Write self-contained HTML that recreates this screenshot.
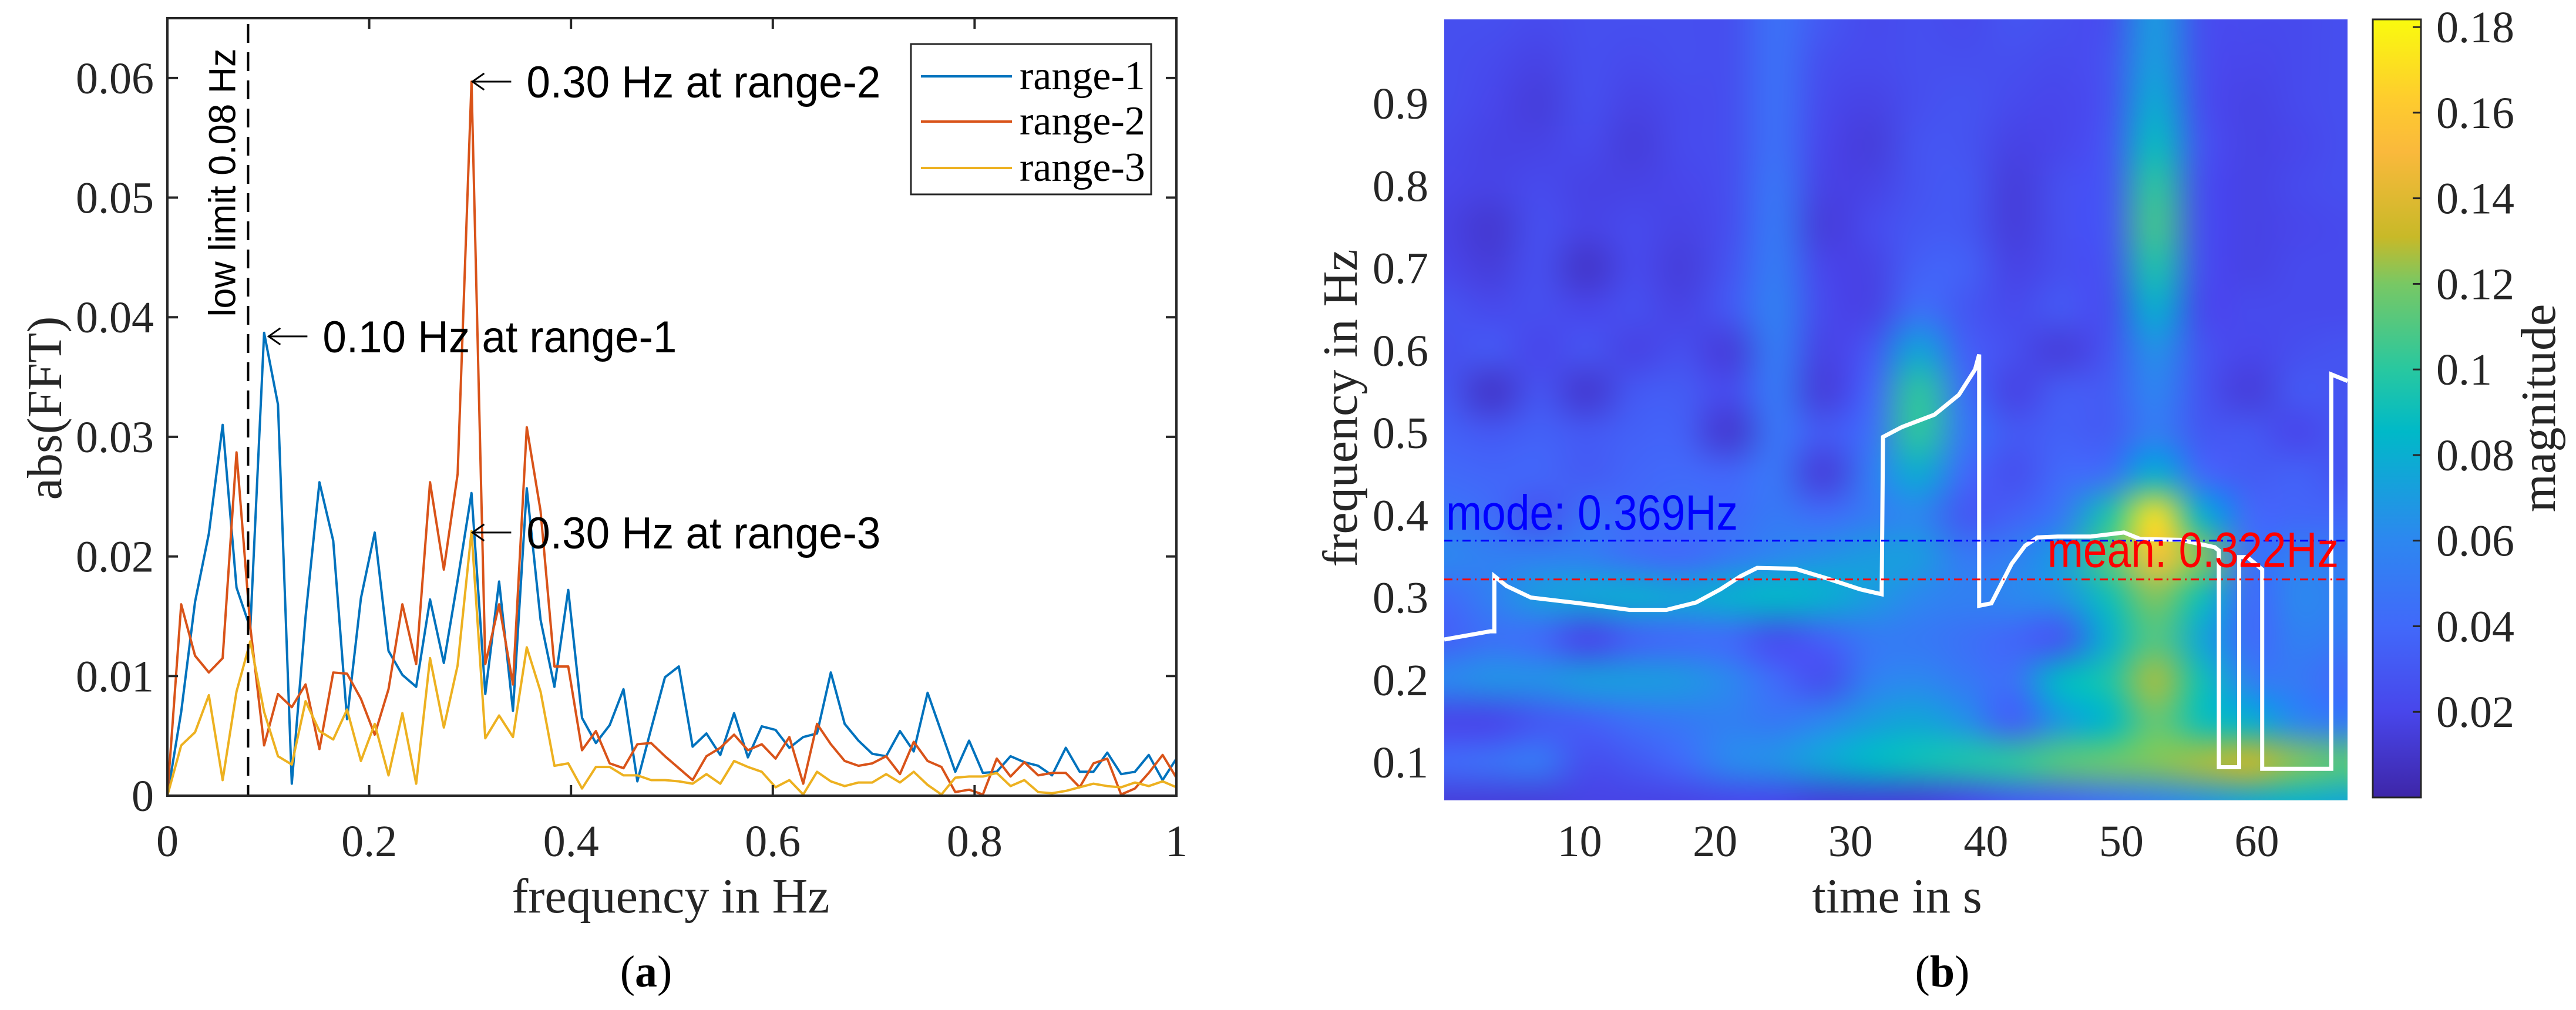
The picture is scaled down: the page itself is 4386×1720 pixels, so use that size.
<!DOCTYPE html>
<html><head><meta charset="utf-8">
<style>
html,body{margin:0;padding:0;background:#fff;}
#wrap{position:relative;width:4386px;height:1720px;overflow:hidden;}
svg{position:absolute;left:0;top:0;}
#heat{position:absolute;left:2459px;top:33px;width:1538px;height:1330px;}
</style></head>
<body>
<div id="wrap">
<canvas id="heat" width="1538" height="1330"></canvas>
<svg id="svg" width="4386" height="1720" xmlns="http://www.w3.org/2000/svg"></svg>
</div>
<script>
// ---------- Panel (a) data ----------
const fftCount = 74; // frequency bins 0..1 Hz
const range1 = [0,.0070,.0162,.0219,.0310,.0174,.0140,.0387,.0327,.0010,.0150,.0262,.0213,.0064,.0165,.0220,.0121,.0101,.0091,.0164,.0111,.0180,.0253,.0085,.0179,.0071,.0257,.0147,.0091,.0172,.0065,.0044,.0059,.0089,.0012,.0056,.0099,.0108,
.0041,.0052,.0034,.0069,.0032,.0058,.0055,.0040,.0049,.0052,.0103,.0060,.0046,.0035,.0033,.0054,.0037,.0086,.0053,.0020,.0046,.0019,.0020,.0033,.0028,.0025,.0017,.0040,.0020,.0020,.0036,.0018,.0020,.0034,.0013,.0031];
const range2 = [0,.0160,.0117,.0103,.0115,.0287,.0141,.0042,.0085,.0074,.0093,.0039,.0103,.0102,.0081,.0051,.0089,.0160,.0110,.0262,.0189,.0269,.0597,.0110,.0160,.0093,.0308,.0238,.0108,.0108,.0038,.0054,.0027,.0023,.0043,.0044,.0033,.0023,
.0013,.0033,.0040,.0051,.0038,.0043,.0031,.0049,.0010,.0060,.0043,.0029,.0025,.0027,.0033,.0018,.0045,.0029,.0024,.0003,.0005,.0001,.0031,.0016,.0028,.0017,.0019,.0019,.0007,.0027,.0031,.0001,.0006,.0019,.0034,.0015];
const range3 = [0,.0042,.0053,.0084,.0013,.0087,.0129,.0070,.0033,.0026,.0079,.0054,.0047,.0072,.0029,.0060,.0017,.0069,.0010,.0115,.0057,.0109,.0221,.0048,.0067,.0049,.0124,.0087,.0025,.0027,.0006,.0024,.0024,.0017,.0017,.0013,.0013,.0012,
.0010,.0018,.0010,.0029,.0024,.0020,.0007,.0013,.0001,.0020,.0012,.0008,.0011,.0011,.0018,.0011,.0020,.0009,.0001,.0015,.0016,.0016,.0019,.0008,.0013,.0003,.0002,.0004,.0007,.0010,.0008,.0007,.0011,.0008,.0012,.0007];
const seriesNames = ["range-1","range-2","range-3"];
const xTicksA = [0,0.2,0.4,0.6,0.8,1];
const xTickLabelsA = ["0","0.2","0.4","0.6","0.8","1"];
const yTicksA = [0,0.01,0.02,0.03,0.04,0.05,0.06];
const yTickLabelsA = ["0","0.01","0.02","0.03","0.04","0.05","0.06"];
const lowLimit = 0.08;
const annFreq = [0.30,0.098,0.30];
const annVal = [0.0597,0.0384,0.0220];
const annText = ["0.30 Hz at range-2","0.10 Hz at range-1","0.30 Hz at range-3"];

// ---------- Panel (b) data ----------
const heatTimes = [0,3.5,7,10.5,14,17.5,21,24.5,28,31.5,35,38.5,42,45.5,49,52.5,56,59.5,63,66.5];
const heatFreqs = [1.0,.95,.9,.85,.8,.75,.7,.65,.6,.55,.5,.45,.4,.35,.3,.25,.2,.15,.1,.05];
const heatVals = [ // magnitude x1000, rows = heatFreqs, cols = heatTimes
[25,25,22,25,25,25,25,45,30,22,25,22,28,25,25,70,25,22,22,25],
[25,22,18,25,22,25,25,45,25,22,25,25,25,22,28,72,25,20,22,25],
[25,20,15,25,18,22,25,45,22,18,25,28,22,20,28,78,25,18,22,25],
[22,18,18,22,15,22,25,45,20,15,28,28,18,20,30,88,28,18,20,25],
[20,18,22,18,18,20,25,48,18,18,28,30,15,25,30,100,25,18,22,25],
[18,12,25,18,22,18,25,50,15,22,30,30,15,25,30,105,25,18,20,22],
[20,15,25,10,22,15,28,52,20,18,35,35,18,25,28,95,25,18,22,22],
[28,22,25,20,25,18,30,55,22,18,45,30,22,30,25,80,22,22,22,22],
[25,30,20,28,18,25,15,52,18,30,75,35,25,15,28,65,28,20,25,28],
[30,10,28,12,30,32,22,50,15,38,100,45,18,32,32,58,28,15,30,28],
[35,30,35,30,35,35,12,48,30,45,100,50,30,35,32,55,30,30,20,30],
[40,38,38,32,38,40,38,48,15,52,78,40,25,40,45,80,40,32,35,28],
[48,42,28,45,40,45,42,50,42,52,60,30,35,50,95,170,80,40,38,38],
[60,55,55,55,45,40,50,60,65,70,70,50,55,70,110,155,120,45,55,50],
[40,55,70,75,78,75,80,85,80,70,60,55,60,65,90,120,90,40,60,55],
[35,45,40,20,35,40,40,25,35,50,50,45,38,30,80,110,75,40,55,50],
[60,65,65,70,70,68,60,40,25,55,60,50,45,85,95,125,90,55,50,40],
[20,20,30,35,45,50,55,50,60,70,75,65,35,70,85,115,90,80,60,50],
[40,45,50,25,30,40,60,65,75,85,90,95,100,110,115,120,125,130,120,110],
[15,15,15,18,18,18,20,20,15,15,15,20,30,35,45,55,65,75,80,75]];
const ridgeT = [0,3.4,3.7,3.7,4.6,6.4,10,13.7,16.4,18.6,20.4,21.9,23.1,25.9,28.3,30.7,32.3,32.4,33.8,36.2,38.0,39.2,39.5,39.5,40.4,41.9,42.9,43.8,45.3,47.7,50.2,51.4,54.4,56.9,57.2,57.2,58.7,58.7,59.3,60.4,60.4,62.6,65.5,65.5,66.7];
const ridgeF = [.249,.259,.259,.326,.314,.300,.293,.285,.285,.294,.310,.326,.336,.335,.323,.310,.304,.495,.507,.522,.546,.577,.595,.290,.293,.341,.363,.373,.374,.374,.379,.371,.370,.361,.357,.094,.094,.349,.349,.334,.092,.092,.092,.571,.563];
const modeFreq = 0.369, meanFreq = 0.322;
const xTicksB = [10,20,30,40,50,60];
const yTicksB = [0.1,0.2,0.3,0.4,0.5,0.6,0.7,0.8,0.9];
const cbTicks = [0.02,0.04,0.06,0.08,0.1,0.12,0.14,0.16,0.18];
const cbLabels = ["0.02","0.04","0.06","0.08","0.1","0.12","0.14","0.16","0.18"];

// ---------- helpers ----------
const NS="http://www.w3.org/2000/svg";
const svg=document.getElementById('svg');
function mk(tag,attrs,parent){const e=document.createElementNS(NS,tag);for(const k in attrs)e.setAttribute(k,attrs[k]);(parent||svg).appendChild(e);return e;}
const SERIF='"Liberation Serif", "DejaVu Serif", serif';
const SANS='"Liberation Sans", "DejaVu Sans", sans-serif';

// ---------- panel (a) ----------
const A={l:285,r:2003,t:31,b:1355,ymax:0.065};
const ax=v=>A.l+v*(A.r-A.l);
const ay=v=>A.b-v/A.ymax*(A.b-A.t);
const colors=["#0072BD","#D95319","#EDB120"];
const allSeries=[range1,range2,range3];
const gA=mk('g',{});


allSeries.forEach((s,k)=>{
  let d='';
  s.forEach((v,i)=>{d+=(i?'L':'M')+ax(i/(fftCount-1)).toFixed(1)+' '+ay(v).toFixed(1);});
  const p=mk('path',{d:d,fill:'none',stroke:colors[k],'stroke-width':4,'stroke-linejoin':'round'},gA);
  
  
});
const ll=mk('line',{x1:ax(lowLimit),x2:ax(lowLimit),y1:A.t+10,y2:A.b,stroke:'#000','stroke-width':4,'stroke-dasharray':'32 16'},gA);


const llt=mk('text',{x:0,y:0,transform:`translate(${ax(lowLimit)-22},311) rotate(-90)`,'text-anchor':'middle','font-family':SANS,'font-size':64,fill:'#000',textLength:457,lengthAdjust:'spacingAndGlyphs'},gA);
llt.textContent='low limit 0.08 Hz';


annText.forEach((t,i)=>{
  const x=ax(annFreq[i]), y=ay(annVal[i]);
  const g=mk('g',{},gA);
  
  
  mk('line',{x1:x+4,y1:y,x2:x+70,y2:y,stroke:'#000','stroke-width':3},g);
  mk('path',{d:`M${x+24} ${y-14} L${x+4} ${y} L${x+24} ${y+14}`,fill:'none',stroke:'#000','stroke-width':3},g);
  const tx=mk('text',{x:x+96,y:y+27,'font-family':SANS,'font-size':76,fill:'#000',textLength:603,lengthAdjust:'spacingAndGlyphs'},g);
  tx.textContent=t;
});
const box=mk('rect',{x:A.l,y:A.t,width:A.r-A.l,height:A.b-A.t,fill:'none',stroke:'#262626','stroke-width':4},gA);


xTicksA.forEach((v,i)=>{
  const x=ax(v);
  mk('line',{x1:x,x2:x,y1:A.b,y2:A.b-18,stroke:'#262626','stroke-width':4},gA);
  mk('line',{x1:x,x2:x,y1:A.t,y2:A.t+18,stroke:'#262626','stroke-width':4},gA);
  const t=mk('text',{x:x,y:1458,'text-anchor':'middle','font-family':SERIF,'font-size':76,fill:'#262626'},gA);
  t.textContent=xTickLabelsA[i];
  
  
});
yTicksA.forEach((v,i)=>{
  const y=ay(v);
  mk('line',{x1:A.l,x2:A.l+18,y1:y,y2:y,stroke:'#262626','stroke-width':4},gA);
  mk('line',{x1:A.r,x2:A.r-18,y1:y,y2:y,stroke:'#262626','stroke-width':4},gA);
  const t=mk('text',{x:262,y:y+26,'text-anchor':'end','font-family':SERIF,'font-size':76,fill:'#262626'},gA);
  t.textContent=yTickLabelsA[i];
  
  
});
let t1=mk('text',{x:1142,y:1554,'text-anchor':'middle','font-family':SERIF,'font-size':84,fill:'#262626'},gA);
t1.textContent='frequency in Hz';


t1=mk('text',{x:0,y:0,transform:'translate(104,695) rotate(-90)','text-anchor':'middle','font-family':SERIF,'font-size':84,fill:'#262626'},gA);
t1.textContent='abs(FFT)';


const lg=mk('g',{},gA);


mk('rect',{x:1551,y:75,width:409,height:256,fill:'#fff',stroke:'#262626','stroke-width':3},lg);
seriesNames.forEach((n,k)=>{
  const y=[130,207,286][k];
  const e=mk('g',{},lg);
  
  
  mk('line',{x1:1568,x2:1723,y1:y,y2:y,stroke:colors[k],'stroke-width':4},e);
  const t=mk('text',{x:1736,y:y+22,'font-family':SERIF,'font-size':70,fill:'#000'},e);
  t.textContent=n;
});
t1=mk('text',{x:1100,y:1680,'text-anchor':'middle','font-family':SERIF,'font-size':76,fill:'#000'});
t1.innerHTML='(<tspan font-weight="bold">a</tspan>)';



// ---------- panel (b) ----------
const B={l:2459,r:3997,t:33,b:1363,tmin:0,tmax:66.7,fmin:0.0537,fmax:1.002};
const bx=v=>B.l+(v-B.tmin)/(B.tmax-B.tmin)*(B.r-B.l);
const by=v=>B.b-(v-B.fmin)/(B.fmax-B.fmin)*(B.b-B.t);
const stops=[[0,62,38,168],[0.11,72,70,235],[0.22,65,105,250],[0.33,45,135,240],[0.47,0,185,200],[0.55,40,200,160],[0.66,120,200,100],[0.72,200,185,40],[0.83,250,185,60],[0.9,254,205,45],[1,249,251,14]];
function cmap(u){u=Math.max(0,Math.min(1,u));for(let i=1;i<stops.length;i++){if(u<=stops[i][0]){const a=stops[i-1],b=stops[i],f=(u-a[0])/(b[0]-a[0]);return [0,1,2].map(j=>Math.round(a[j+1]+f*(b[j+1]-a[j+1])));}}return stops[stops.length-1].slice(1);}
(function(){
  const cv=document.getElementById('heat');const ctx=cv.getContext('2d');
  const nc=heatTimes.length,nr=heatFreqs.length;
  const sm=document.createElement('canvas');sm.width=nc;sm.height=nr;
  const sc=sm.getContext('2d');const img=sc.createImageData(nc,nr);
  for(let r=0;r<nr;r++)for(let c=0;c<nc;c++){const col=cmap(heatVals[r][c]/1000/0.18);const o=(r*nc+c)*4;img.data[o]=col[0];img.data[o+1]=col[1];img.data[o+2]=col[2];img.data[o+3]=255;}
  sc.putImageData(img,0,0);
  ctx.imageSmoothingEnabled=true;ctx.imageSmoothingQuality='high';
  const x0=bx(heatTimes[0])-B.l, x1=bx(heatTimes[nc-1])-B.l;
  const y0=by(heatFreqs[0])-B.t, y1=by(heatFreqs[nr-1])-B.t;
  const cw=(x1-x0)/(nc-1), ch=(y1-y0)/(nr-1);
  ctx.drawImage(sm,0,0,nc,nr,x0-cw/2,y0-ch/2,cw*nc,ch*nr);
  ctx.drawImage(sm,0,nr-1,nc,1,x0-cw/2,y1,cw*nc,B.b-B.t-y1+2);
  ctx.drawImage(sm,nc-1,0,1,nr,x1,y0-ch/2,B.r-B.l-x1+2,ch*nr);
})();
const gB=mk('g',{});


let rd='';
ridgeT.forEach((t,i)=>{rd+=(i?'L':'M')+bx(t).toFixed(1)+' '+by(ridgeF[i]).toFixed(1);});
const ridge=mk('path',{d:rd,fill:'none',stroke:'#fff','stroke-width':7},gB);


const ml=mk('line',{x1:B.l,x2:B.r,y1:by(modeFreq),y2:by(modeFreq),stroke:'#0000ff','stroke-width':3,'stroke-dasharray':'14 7 3 7'},gB);


const mn=mk('line',{x1:B.l,x2:B.r,y1:by(meanFreq),y2:by(meanFreq),stroke:'#ff0000','stroke-width':3,'stroke-dasharray':'14 7 3 7'},gB);


t1=mk('text',{x:B.l+3,y:by(modeFreq)-19,'font-family':SANS,'font-size':84,fill:'#0000ff',textLength:497,lengthAdjust:'spacingAndGlyphs'},gB);
t1.textContent='mode: '+modeFreq+'Hz';


t1=mk('text',{x:3486,y:by(meanFreq)-21,'font-family':SANS,'font-size':84,fill:'#ff0000',textLength:496,lengthAdjust:'spacingAndGlyphs'},gB);
t1.textContent='mean: '+meanFreq+'Hz';


xTicksB.forEach(v=>{
  const t=mk('text',{x:bx(v),y:1458,'text-anchor':'middle','font-family':SERIF,'font-size':76,fill:'#262626'},gB);
  t.textContent=String(v);
  
  
});
yTicksB.forEach(v=>{
  const t=mk('text',{x:2432,y:by(v)+26,'text-anchor':'end','font-family':SERIF,'font-size':76,fill:'#262626'},gB);
  t.textContent=String(v);
  
  
});
t1=mk('text',{x:3230,y:1554,'text-anchor':'middle','font-family':SERIF,'font-size':84,fill:'#262626'},gB);
t1.textContent='time in s';


t1=mk('text',{x:0,y:0,transform:'translate(2310,695) rotate(-90)','text-anchor':'middle','font-family':SERIF,'font-size':84,fill:'#262626'},gB);
t1.textContent='frequency in Hz';


const C={l:4040,r:4122,t:33,b:1358,vmax:0.1818};
const cy=v=>C.b-v/C.vmax*(C.b-C.t);
const defs=mk('defs',{});
const grad=mk('linearGradient',{id:'cbg',x1:0,y1:1,x2:0,y2:0},defs);
stops.forEach(s=>mk('stop',{offset:s[0],'stop-color':`rgb(${s[1]},${s[2]},${s[3]})`},grad));
const cb=mk('rect',{x:C.l,y:C.t,width:C.r-C.l,height:C.b-C.t,fill:'url(#cbg)',stroke:'#262626','stroke-width':3},gB);


cbTicks.forEach((v,i)=>{
  const y=cy(v);
  mk('line',{x1:C.r,x2:C.r-14,y1:y,y2:y,stroke:'#262626','stroke-width':3},gB);
  const t=mk('text',{x:4148,y:y+26,'font-family':SERIF,'font-size':76,fill:'#262626'},gB);
  t.textContent=cbLabels[i];
  
  
});
t1=mk('text',{x:0,y:0,transform:'translate(4350,695) rotate(-90)','text-anchor':'middle','font-family':SERIF,'font-size':84,fill:'#262626'},gB);
t1.textContent='magnitude';


t1=mk('text',{x:3307,y:1680,'text-anchor':'middle','font-family':SERIF,'font-size':76,fill:'#000'});
t1.innerHTML='(<tspan font-weight="bold">b</tspan>)';


</script>
</body></html>
